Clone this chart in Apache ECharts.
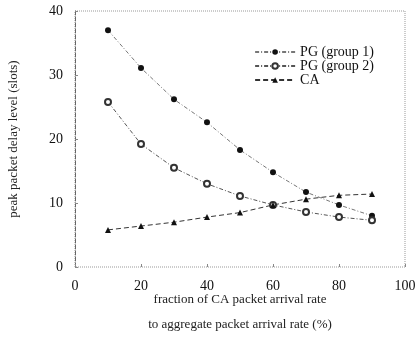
<!DOCTYPE html>
<html>
<head>
<meta charset="utf-8">
<script src="https://cdn.jsdelivr.net/npm/echarts@6/dist/echarts.min.js"></script>
<style>
html, body { margin: 0; padding: 0; background: #fff; }
#chart { width: 419px; height: 348px; }
</style>
</head>
<body>
<div id="chart"></div>
<script>
var xVals = [10, 20, 30, 40, 50, 60, 70, 80, 90];
var pg1 = [37.0, 31.1, 26.2, 22.6, 18.3, 14.8, 11.7, 9.7, 8.0];
var pg2 = [25.8, 19.2, 15.5, 13.0, 11.1, 9.7, 8.6, 7.8, 7.3];
var ca = [5.8, 6.4, 7.0, 7.8, 8.5, 9.7, 10.6, 11.2, 11.4];

function pairs(ys) {
    return xVals.map(function (x, i) { return [x, ys[i]]; });
}

var font = 'Liberation Serif';
var myChart = echarts.init(document.getElementById('chart'));
var option = {
    animation: false,
    textStyle: { fontFamily: font, color: '#111' },
    grid: {
        left: 75,
        right: 14,
        top: 11,
        bottom: 81,
        outerBoundsMode: 'none',
        show: true,
        borderColor: '#999',
        borderWidth: 1,
        borderType: 'dotted'
    },
    legend: {
        right: 40,
        top: 40,
        orient: 'vertical',
        itemWidth: 40,
        itemHeight: 7,
        itemGap: 0,
        textStyle: { fontFamily: font, fontSize: 14, color: '#111' },
        data: ['PG (group 1)', 'PG (group 2)', 'CA']
    },
    xAxis: {
        type: 'value',
        min: 0,
        max: 100,
        interval: 20,
        name: 'fraction of CA packet arrival rate\nto aggregate packet arrival rate (%)',
        nameLocation: 'middle',
        nameGap: 20,
        nameMoveOverlap: false,
        nameTextStyle: { fontFamily: font, fontSize: 13, color: '#222', lineHeight: 25 },
        axisLine: { show: false },
        axisTick: { show: true, inside: true, length: 3, lineStyle: { color: '#888' } },
        axisLabel: { fontFamily: font, fontSize: 14, color: '#111', margin: 12 },
        splitLine: { show: false }
    },
    yAxis: {
        type: 'value',
        min: 0,
        max: 40,
        interval: 10,
        name: 'peak packet delay level (slots)',
        nameLocation: 'middle',
        nameGap: 55,
        nameMoveOverlap: false,
        nameTextStyle: { fontFamily: font, fontSize: 13, color: '#222' },
        axisLine: { show: true, lineStyle: { color: '#666', type: 'dashed' } },
        axisTick: { show: true, inside: true, length: 3, lineStyle: { color: '#888' } },
        axisLabel: { fontFamily: font, fontSize: 14, color: '#111', margin: 12 },
        splitLine: { show: false }
    },
    series: [
        {
            name: 'PG (group 1)',
            type: 'line',
            data: pairs(pg1),
            symbol: 'circle',
            symbolSize: 6,
            itemStyle: { color: '#111' },
            lineStyle: { color: '#777', width: 1, type: [4, 2, 1, 2] }
        },
        {
            name: 'PG (group 2)',
            type: 'line',
            data: pairs(pg2),
            symbol: 'emptyCircle',
            symbolSize: 6,
            itemStyle: { color: '#333', borderWidth: 0.8 },
            lineStyle: { color: '#555', width: 1, type: [4, 2, 1, 2] }
        },
        {
            name: 'CA',
            type: 'line',
            data: pairs(ca),
            symbol: 'triangle',
            symbolSize: 6,
            itemStyle: { color: '#111' },
            lineStyle: { color: '#333', width: 1, type: [5, 3] }
        }
    ]
};
myChart.setOption(option);
</script>
</body>
</html>
